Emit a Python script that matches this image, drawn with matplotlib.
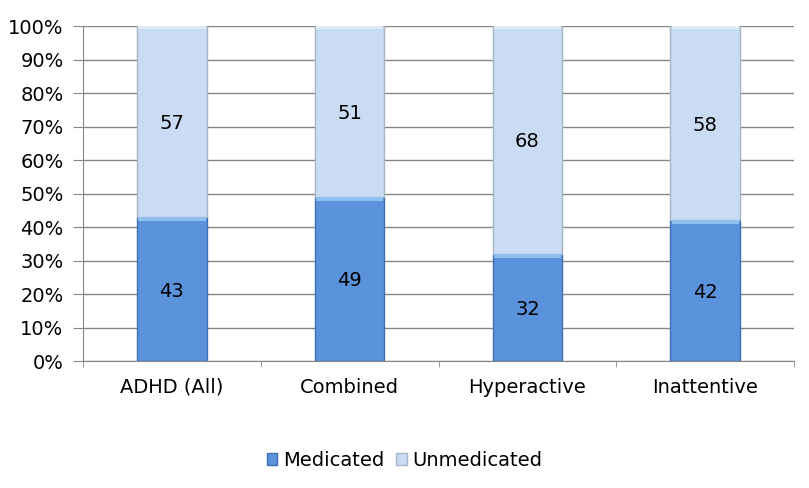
import matplotlib.pyplot as plt
from matplotlib.ticker import PercentFormatter
import numpy as np

# --- Dados ---
categorias = ["ADHD (All)", "Combined", "Hyperactive", "Inattentive"]
medicados = [43, 49, 32, 42]
nao_medicados = [57, 51, 68, 58]

COR_MED = "#5A92DC"
BORDA_MED = "#3F6FAF"
COR_NAO = "#C9DCF4"
BORDA_NAO = "#A8B4C4"

fig = plt.figure(figsize=(8.09, 4.88), dpi=100)
ax = fig.add_axes([0.1026, 0.2602, 0.8789, 0.6865])

x = np.arange(len(categorias))
largura = 0.39

b1 = ax.bar(x, medicados, largura, color=COR_MED, edgecolor=BORDA_MED,
            linewidth=1.0, label="Medicated", zorder=3)
b2 = ax.bar(x, nao_medicados, largura, bottom=medicados, color=COR_NAO,
            edgecolor=BORDA_NAO, linewidth=1.0, label="Unmedicated", zorder=3)

# faixa clara no topo de cada segmento (efeito de bisel)
ax.bar(x, [1.2] * len(x), largura * 0.97, bottom=np.array(medicados) - 1.2,
       color="#8EC0F0", linewidth=0, zorder=4)
ax.bar(x, [1.0] * len(x), largura * 0.97,
       bottom=np.array(medicados) + np.array(nao_medicados) - 1.0,
       color="#E2ECF8", linewidth=0, zorder=4)

for i in range(len(x)):
    ax.text(x[i], medicados[i] / 2 - 0.6, str(medicados[i]), ha="center",
            va="center", fontsize=14, zorder=5)
    ax.text(x[i], medicados[i] + nao_medicados[i] / 2 - 0.6, str(nao_medicados[i]),
            ha="center", va="center", fontsize=14, zorder=5)

ax.set_xlim(-0.5, len(x) - 0.5)
ax.set_ylim(0, 100)
ax.set_yticks(np.arange(0, 101, 10))
ax.yaxis.set_major_formatter(PercentFormatter(decimals=0))
ax.grid(axis="y", color="#868686", linewidth=1.0, zorder=0)

ax.set_xticks(x)
ax.set_xticklabels(categorias, fontsize=14)
ax.set_xticks(np.arange(-0.5, len(x), 1), minor=True)
ax.tick_params(axis="x", which="major", length=0, pad=12)
ax.tick_params(axis="x", which="minor", length=4, color="#868686")
ax.tick_params(axis="y", length=7, color="#868686", labelsize=14, pad=7)

for lado in ["top", "right"]:
    ax.spines[lado].set_visible(False)
ax.spines["left"].set_color("#868686")
ax.spines["bottom"].set_color("#868686")

fig.legend(handles=[b1, b2], loc="center", bbox_to_anchor=(0.5, 0.057), ncol=2,
           frameon=False, fontsize=14, handlelength=0.55, handleheight=0.55,
           handletextpad=0.3, columnspacing=0.6)

fig.savefig("out.png", dpi=100)
